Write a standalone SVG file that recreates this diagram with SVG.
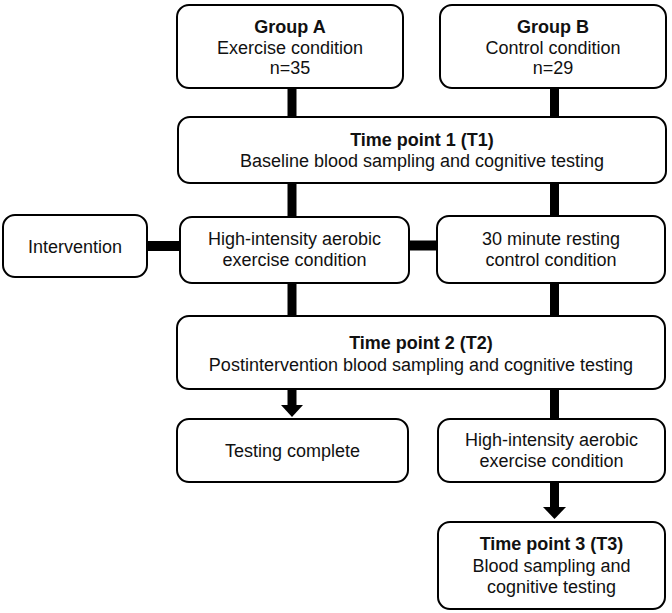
<svg xmlns="http://www.w3.org/2000/svg" width="672" height="613" viewBox="0 0 672 613">
<style>
.box{fill:#fff;stroke:#000;stroke-width:2}
.t{font-family:"Liberation Sans",Arial,sans-serif;font-size:18px;fill:#111;text-anchor:middle}
.b{font-weight:bold}
.c{stroke:#000;fill:none}
.v{stroke-width:9}
.h{stroke-width:10}
.ah{fill:#000}
</style>
<rect width="672" height="613" fill="#fff"/>
<g id="connectors">
<line class="c v" x1="292" y1="88" x2="292" y2="117"/>
<line class="c v" x1="554.5" y1="88" x2="554.5" y2="117"/>
<line class="c v" x1="292" y1="183" x2="292" y2="217"/>
<line class="c v" x1="554.5" y1="183" x2="554.5" y2="216"/>
<line class="c h" x1="147" y1="246" x2="180" y2="246"/>
<line class="c h" x1="409" y1="245.5" x2="437" y2="245.5"/>
<line class="c v" x1="292" y1="283" x2="292" y2="316"/>
<line class="c v" x1="554.5" y1="283" x2="554.5" y2="316"/>
<line class="c v" x1="292" y1="389" x2="292" y2="406"/>
<polygon class="ah" points="281,405 303,405 292,417"/>
<line class="c v" x1="554.5" y1="389" x2="554.5" y2="419"/>
<line class="c v" x1="554.5" y1="482" x2="554.5" y2="508"/>
<polygon class="ah" points="543,507 566,507 554.5,519"/>
</g>
<g id="groupA">
<rect class="box" x="177" y="5" width="226" height="83" rx="12"/>
<text class="t b" x="290" y="33">Group A</text>
<text class="t" x="290" y="54">Exercise condition</text>
<text class="t" x="290" y="74">n=35</text>
</g>
<g id="groupB">
<rect class="box" x="440" y="5" width="226" height="83" rx="12"/>
<text class="t b" x="553" y="33">Group B</text>
<text class="t" x="553" y="54">Control condition</text>
<text class="t" x="553" y="74">n=29</text>
</g>
<g id="t1">
<rect class="box" x="178" y="117" width="488" height="66" rx="12"/>
<text class="t b" x="422" y="146">Time point 1 (T1)</text>
<text class="t" x="422" y="167">Baseline blood sampling and cognitive testing</text>
</g>
<g id="intervention">
<rect class="box" x="3" y="215" width="144" height="62" rx="12"/>
<text class="t" x="75" y="252.5">Intervention</text>
</g>
<g id="exerciseA">
<rect class="box" x="180" y="217" width="229" height="66" rx="12"/>
<text class="t" x="294.5" y="245">High-intensity aerobic</text>
<text class="t" x="294.5" y="266">exercise condition</text>
</g>
<g id="restB">
<rect class="box" x="437" y="216" width="228" height="67" rx="12"/>
<text class="t" x="551" y="245">30 minute resting</text>
<text class="t" x="551" y="266">control condition</text>
</g>
<g id="t2">
<rect class="box" x="177" y="316" width="488" height="73" rx="12"/>
<text class="t b" x="421" y="349">Time point 2 (T2)</text>
<text class="t" x="421" y="371">Postintervention blood sampling and cognitive testing</text>
</g>
<g id="complete">
<rect class="box" x="177" y="419" width="231" height="63" rx="12"/>
<text class="t" x="292.5" y="457">Testing complete</text>
</g>
<g id="exerciseB">
<rect class="box" x="438" y="419" width="227" height="63" rx="12"/>
<text class="t" x="551.5" y="446">High-intensity aerobic</text>
<text class="t" x="551.5" y="467">exercise condition</text>
</g>
<g id="t3">
<rect class="box" x="438" y="522" width="227" height="87" rx="12"/>
<text class="t b" x="551.5" y="550">Time point 3 (T3)</text>
<text class="t" x="551.5" y="572">Blood sampling and</text>
<text class="t" x="551.5" y="593">cognitive testing</text>
</g>
</svg>
